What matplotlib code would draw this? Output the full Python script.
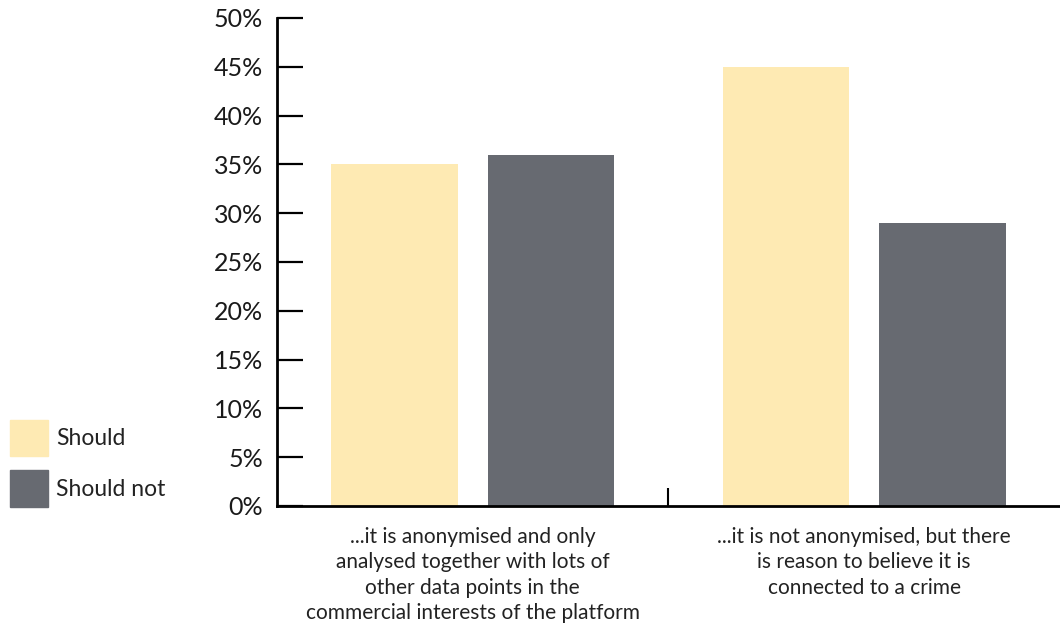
import matplotlib.pyplot as plt
import numpy as np
from matplotlib.patches import Patch
from matplotlib.ticker import FixedLocator, PercentFormatter

plt.rcParams['font.family'] = ['Lato', 'DejaVu Sans']

# данные опроса
categories = ['...it is anonymised and only\nanalysed together with lots of\nother data points in the\ncommercial interests of the platform',
              '...it is not anonymised, but there\nis reason to believe it is\nconnected to a crime']
should = [35, 45]
should_not = [36, 29]
series_names = ['Should', 'Should not']

col_should = '#FEEAB3'
col_not = '#676A71'

fig = plt.figure(figsize=(10.6, 6.26), dpi=100)
ax = fig.add_axes([0.2613, 0.1917, 0.7387, 0.7796])

x = np.arange(len(categories))
w = 0.324
ax.bar(x - 0.2, should, w, color=col_should)
ax.bar(x + 0.2, should_not, w, color=col_not)

ax.set_xlim(-0.5, 1.5)
ax.set_ylim(0, 50)
ax.set_yticks(np.arange(0, 51, 5))
ax.yaxis.set_major_formatter(PercentFormatter(decimals=0))
ax.tick_params(axis='y', direction='in', length=19, width=1.6, labelsize=18,
               pad=10, color='black', labelcolor='#1a1a1a')

ax.set_xticks(x)
ax.set_xticklabels(categories, fontsize=15, color='#222222', linespacing=1.34)
ax.tick_params(axis='x', length=0, pad=15)
ax.xaxis.set_minor_locator(FixedLocator([0.5]))
ax.tick_params(axis='x', which='minor', direction='in', length=13, width=1.5)

for s in ['top', 'right']:
    ax.spines[s].set_visible(False)
for s in ['left', 'bottom']:
    ax.spines[s].set_linewidth(2)

# легенда слева
handles = [Patch(color=col_should), Patch(color=col_not)]
leg = fig.legend(handles, series_names, loc='lower left', bbox_to_anchor=(0.0094, 0.19),
                 frameon=False, fontsize=16.5, handlelength=1.66, handleheight=2.1,
                 labelspacing=0.6, handletextpad=0.35, borderaxespad=0, borderpad=0)
for t in leg.get_texts():
    t.set_color('#222222')

fig.savefig('out.png', dpi=100)
